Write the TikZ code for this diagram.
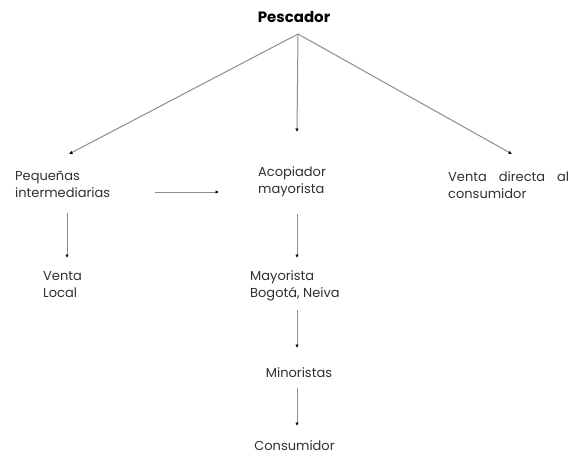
\documentclass[tikz,border=0pt]{standalone}
\usepackage{fontspec}
\setmainfont{Poppins}
\usepackage{tikz}
\usepackage{xcolor}
\usetikzlibrary{arrows.meta,positioning}
\definecolor{ink}{HTML}{303030}
\definecolor{linegray}{HTML}{8C8C8C}

\begin{document}
\begin{tikzpicture}[x=1pt,y=-1pt,
    lbl/.style={font=\fontsize{13}{17}\selectfont\color{ink},align=left,inner sep=0pt},
    arr/.style={linegray,line width=1pt,-{Latex[length=3.5pt,width=3.5pt,black]}}]
      \useasboundingbox (0,0) rectangle (576,456);
      % nodes
      \node[font=\fontsize{15}{17}\selectfont\bfseries,inner sep=0pt] (pesc) at (294,17) {Pescador};
      \node[lbl,anchor=west] (peq) at (15,184.5) {Pequeñas\\intermediarias};
      \node[lbl,anchor=west] (acop) at (258,182) {Acopiador\\mayorista};
      \node[lbl,anchor=west] (vdir) at (448,185.5) {Venta\hspace{12pt}directa\hspace{12pt}al\\consumidor};
      \node[lbl,anchor=west] (vloc) at (43,285) {Venta\\Local};
      \node[lbl,anchor=west] (mayo) at (250,285.5) {Mayorista\\Bogotá, Neiva};
      \node[lbl] (mino) at (299,373) {Minoristas};
      \node[lbl] (cons) at (294.5,446) {Consumidor};
      % free ends
      \coordinate (apex) at (298,34);
      \coordinate (tpeq) at (69,154);
      \coordinate (tacop) at (297,132);
      \coordinate (tvdir) at (512,154);
      \coordinate (hs) at (155,192);
      \coordinate (he) at (219,192);
      \coordinate (s1) at (67,213);
      \coordinate (e1) at (67,258);
      \coordinate (s2) at (297,214);
      \coordinate (e2) at (297,258);
      \coordinate (s3) at (297,310);
      \coordinate (e3) at (297,348);
      \coordinate (s4) at (297,388);
      \coordinate (e4) at (297,426);
      % connectors
      \draw[arr] (apex) -- (tpeq);
      \draw[arr] (apex) -- (tacop);
      \draw[arr] (apex) -- (tvdir);
      \draw[arr] (hs) -- (he);
      \draw[arr] (s1) -- (e1);
      \draw[arr] (s2) -- (e2);
      \draw[arr] (s3) -- (e3);
      \draw[arr] (s4) -- (e4);
    \end{tikzpicture}
\end{document}
